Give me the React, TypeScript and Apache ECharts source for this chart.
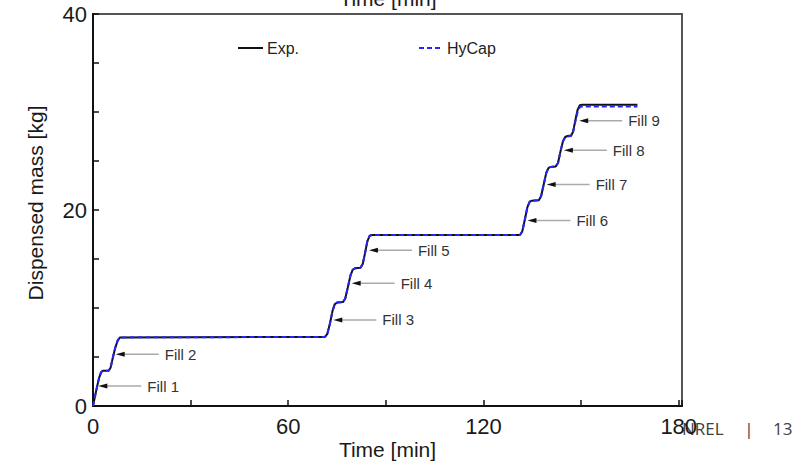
import React, { useEffect, useRef } from "react";
import * as echarts from "echarts";

const FONT = "'Liberation Sans', Arial, sans-serif";

// Time [min] / dispensed mass [kg]
const expTime = [0, 0.5, 1.2, 1.9, 2.5, 3.0, 4.8, 5.4, 6.0, 6.8, 7.6, 8.3, 71.3, 72.0, 72.8, 73.6, 74.3, 75.0, 76.8, 77.5, 78.3, 79.1, 79.8, 80.5, 82.2, 82.9, 83.6, 84.3, 85.0, 85.6, 131.2, 131.9, 132.7, 133.5, 134.2, 134.9, 137.0, 137.7, 138.5, 139.3, 140.0, 140.7, 142.2, 142.9, 143.6, 144.4, 145.1, 145.8, 146.9, 147.5, 148.2, 148.9, 149.6, 150.3, 167.3];
const expMass = [0, 0.8, 1.9, 2.9, 3.45, 3.6, 3.6, 3.9, 4.8, 5.9, 6.7, 7.0, 7.05, 7.35, 8.4, 9.7, 10.4, 10.55, 10.6, 10.95, 12.1, 13.3, 13.9, 14.05, 14.1, 14.5, 15.6, 16.8, 17.35, 17.45, 17.45, 17.8, 19.0, 20.3, 20.85, 20.95, 21.0, 21.4, 22.6, 23.8, 24.3, 24.4, 24.45, 24.8, 25.9, 27.0, 27.45, 27.55, 27.6, 27.95, 29.1, 30.2, 30.7, 30.75, 30.75];
const hycapTime = [0, 0.5, 1.2, 1.9, 2.5, 3.0, 4.8, 5.4, 6.0, 6.8, 7.6, 8.3, 71.3, 72.0, 72.8, 73.6, 74.3, 75.0, 76.8, 77.5, 78.3, 79.1, 79.8, 80.5, 82.2, 82.9, 83.6, 84.3, 85.0, 85.6, 131.2, 131.9, 132.7, 133.5, 134.2, 134.9, 137.0, 137.7, 138.5, 139.3, 140.0, 140.7, 142.2, 142.9, 143.6, 144.4, 145.1, 145.8, 146.9, 147.5, 148.2, 148.9, 149.6, 150.3, 167.3];
const hycapMass = [0, 0.8, 1.9, 2.9, 3.45, 3.6, 3.6, 3.9, 4.8, 5.9, 6.7, 7.0, 7.05, 7.35, 8.4, 9.7, 10.4, 10.55, 10.6, 10.95, 12.1, 13.3, 13.9, 14.05, 14.1, 14.5, 15.6, 16.8, 17.35, 17.45, 17.45, 17.8, 19.0, 20.3, 20.85, 20.95, 21.0, 21.4, 22.6, 23.8, 24.3, 24.4, 24.45, 24.8, 25.9, 27.0, 27.4, 27.5, 27.55, 27.9, 29.0, 30.0, 30.5, 30.55, 30.55];

// Fill annotations: arrow tip position (time, mass) and label
const fillLabels = ["Fill 1", "Fill 2", "Fill 3", "Fill 4", "Fill 5", "Fill 6", "Fill 7", "Fill 8", "Fill 9"];
const fillTipTime = [1.63, 6.98, 73.85, 79.5, 84.8, 133.5, 139.4, 144.7, 149.4];
const fillTipMass = [2.04, 5.28, 8.78, 12.52, 15.9, 18.93, 22.6, 26.1, 29.1];

const xTicks = [0, 60, 120, 180];
const yTicks = [0, 20, 40];
const legendNames = ["Exp.", "HyCap"];

export default function App() {
  const ref = useRef<HTMLDivElement>(null);
  useEffect(() => {
    document.body.style.margin = "0";
    const chart = echarts.init(ref.current!, null, { renderer: "svg" });
    const option: any = {
      animation: false,
      backgroundColor: "#ffffff",
      textStyle: { fontFamily: FONT },
      grid: { left: 93, right: 120, top: 14, bottom: 56, show: true, borderColor: "#555", borderWidth: 2, backgroundColor: "transparent", containLabel: false, outerBoundsMode: "none" },
      xAxis: {
        type: "value", min: 0, max: 181, interval: 30,
        name: "Time [min]", nameLocation: "middle", nameGap: 33, nameMoveOverlap: false,
        nameTextStyle: { fontFamily: FONT, fontSize: 21, color: "#1a1a1a" },
        axisLine: { lineStyle: { color: "#111", width: 2 } },
        axisTick: { inside: true, length: 6, lineStyle: { color: "#111", width: 1.5 } },
        axisLabel: { fontFamily: FONT, fontSize: 22, color: "#1a1a1a", margin: 9,
          formatter: (v: number) => (xTicks.includes(v) ? String(v) : "") },
        splitLine: { show: false },
      },
      yAxis: {
        type: "value", min: 0, max: 40, interval: 5,
        name: "Dispensed mass [kg]", nameLocation: "middle", nameGap: 47, nameMoveOverlap: false,
        nameTextStyle: { fontFamily: FONT, fontSize: 21, color: "#1a1a1a", padding: [0, 0, 0, 14] },
        axisLine: { lineStyle: { color: "#111", width: 2 } },
        axisTick: { inside: true, length: 6, lineStyle: { color: "#111", width: 1.5 } },
        axisLabel: { fontFamily: FONT, fontSize: 22, color: "#1a1a1a", margin: 6,
          formatter: (v: number) => (yTicks.includes(v) ? String(v) : "") },
        splitLine: { show: false },
      },
      series: [
        {
          name: legendNames[0], type: "line", symbol: "none", showSymbol: false,
          data: expTime.map((t, i) => [t, expMass[i]]),
          lineStyle: { color: "#111", width: 2 }, itemStyle: { color: "#111" }, z: 3,
        },
        {
          name: legendNames[1], type: "line", symbol: "none", showSymbol: false,
          data: hycapTime.map((t, i) => [t, hycapMass[i]]),
          lineStyle: { color: "#2424ff", width: 2, type: [5, 3] }, itemStyle: { color: "#2424ff" }, z: 4,
        },
        {
          type: "custom", silent: true, z: 5,
          data: fillLabels.map((l, i) => [fillTipTime[i], fillTipMass[i], l]),
          renderItem: (params: any, api: any) => {
            const p = api.coord([api.value(0), api.value(1)]);
            const label = fillLabels[params.dataIndex];
            return {
              type: "group",
              children: [
                { type: "line", shape: { x1: p[0] + 6, y1: p[1], x2: p[0] + 43, y2: p[1] }, style: { stroke: "#aaaaaa", lineWidth: 1.5 } },
                { type: "polygon", shape: { points: [[p[0], p[1]], [p[0] + 9, p[1] - 2.5], [p[0] + 9, p[1] + 2.5]] }, style: { fill: "#111" } },
                { type: "text", x: p[0] + 49, y: p[1], style: { text: label, fontFamily: FONT, fontSize: 15, fill: "#333", align: "left", verticalAlign: "middle" } },
              ],
            };
          },
        },
      ],
      graphic: [
        // legend
        { type: "line", shape: { x1: 238, y1: 48, x2: 263, y2: 48 }, style: { stroke: "#111", lineWidth: 2 } },
        { type: "text", x: 267, y: 48, style: { text: legendNames[0], fontFamily: FONT, fontSize: 16, fill: "#222", align: "left", verticalAlign: "middle" } },
        { type: "line", shape: { x1: 419, y1: 48, x2: 443, y2: 48 }, style: { stroke: "#2424ff", lineWidth: 2, lineDash: [5, 3] } },
        { type: "text", x: 447, y: 48, style: { text: legendNames[1], fontFamily: FONT, fontSize: 16, fill: "#222", align: "left", verticalAlign: "middle" } },
        // clipped title from slide above
        { type: "text", x: 388, y: -2, style: { text: "Time [min]", fontFamily: FONT, fontSize: 21, fill: "#1a1a1a", align: "center", verticalAlign: "middle" } },
        // slide footer
        { type: "text", x: 682, y: 428, style: { text: "NREL", fontFamily: "'Open Sans', sans-serif", fontSize: 17, fill: "#404040", align: "left", verticalAlign: "middle" } },
        { type: "text", x: 749, y: 428, style: { text: "|", fontFamily: "'Open Sans', sans-serif", fontSize: 17, fill: "#404040", align: "center", verticalAlign: "middle" } },
        { type: "text", x: 773, y: 428, style: { text: "13", fontFamily: "'Open Sans', sans-serif", fontSize: 17, fill: "#404040", align: "left", verticalAlign: "middle" } },
      ],
    };
    chart.setOption(option);
    return () => chart.dispose();
  }, []);
  return <div ref={ref} style={{ width: 802, height: 462 }} />;
}
